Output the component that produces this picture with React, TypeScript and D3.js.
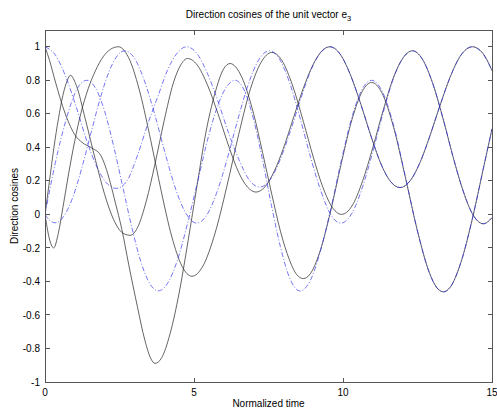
import React from "react";
import * as d3 from "d3";

type P = [number, number];

const xTicks = [0, 5, 10, 15];
const xTickLabels = ["0", "5", "10", "15"];
const yTicks = [-1, -0.8, -0.6, -0.4, -0.2, 0, 0.2, 0.4, 0.6, 0.8, 1];
const yTickLabels = ["-1", "-0.8", "-0.6", "-0.4", "-0.2", "0", "0.2", "0.4", "0.6", "0.8", "1"];

// solid (black) direction cosines
const solidA: P[] = [[0,1],[0.15,0.92],[0.35,0.79],[0.68,0.6],[1.02,0.47],[1.24,0.43],[1.58,0.395],[1.86,0.355],[2.02,0.29],[2.19,0.19],[2.36,0.07],[2.58,-0.09],[2.81,-0.3],[3.1,-0.55],[3.35,-0.75],[3.55,-0.86],[3.69,-0.889],[3.9,-0.86],[4.2,-0.71],[4.5,-0.47],[4.8,-0.16],[5.1,0.17],[5.4,0.49],[5.7,0.72],[6.0,0.87],[6.21,0.9],[6.6,0.82],[7.0,0.6],[7.3,0.37],[7.61,0.12],[7.9,-0.1],[8.2,-0.27],[8.45,-0.36],[8.67,-0.383],[8.9,-0.355],[9.2,-0.236],[9.56,0.0],[9.95,0.31],[10.3,0.565],[10.65,0.735],[10.96,0.787],[11.3,0.727],[11.7,0.518],[12.1,0.215],[12.5,-0.1],[12.9,-0.348],[13.15,-0.437],[13.37,-0.462],[13.6,-0.434],[13.95,-0.29],[14.34,-0.027],[14.7,0.266],[15,0.51]];
const solidB: P[] = [[0,0],[0.14,-0.14],[0.29,-0.2],[0.45,-0.11],[0.6,0.04],[0.8,0.25],[1.0,0.44],[1.2,0.6],[1.45,0.75],[1.7,0.86],[1.95,0.94],[2.2,0.985],[2.46,1.0],[2.85,0.918],[3.2,0.718],[3.55,0.44],[3.9,0.139],[4.25,-0.13],[4.6,-0.31],[4.93,-0.369],[5.3,-0.308],[5.7,-0.116],[6.1,0.165],[6.5,0.477],[6.9,0.752],[7.25,0.907],[7.61,0.966],[7.95,0.918],[8.3,0.773],[8.67,0.554],[9.0,0.343],[9.3,0.174],[9.6,0.053],[9.95,0.0],[10.3,0.05],[10.65,0.195],[11.0,0.398],[11.35,0.622],[11.7,0.82],[12.0,0.93],[12.33,0.976],[12.65,0.93],[13.0,0.787],[13.37,0.563],[13.7,0.339],[14.0,0.157],[14.34,0.004],[14.71,-0.056],[15,-0.02]];
const solidC: P[] = [[0,0],[0.15,0.2],[0.3,0.4],[0.45,0.57],[0.6,0.71],[0.75,0.8],[0.85,0.83],[1.05,0.77],[1.35,0.57],[1.7,0.32],[2.0,0.12],[2.3,-0.03],[2.6,-0.11],[2.86,-0.125],[3.1,-0.08],[3.4,0.08],[3.69,0.3],[4.0,0.56],[4.3,0.78],[4.55,0.89],[4.78,0.93],[5.1,0.893],[5.45,0.773],[5.8,0.603],[6.21,0.384],[6.5,0.25],[6.8,0.162],[7.08,0.133],[7.38,0.164],[7.7,0.26],[8.0,0.394],[8.35,0.583],[8.67,0.753],[9.0,0.895],[9.3,0.977],[9.56,1.0],[9.9,0.957],[10.25,0.832],[10.6,0.656],[10.96,0.456],[11.3,0.29],[11.6,0.195],[11.91,0.16],[12.25,0.2],[12.6,0.316],[12.9,0.46],[13.25,0.647],[13.6,0.821],[13.95,0.948],[14.34,1.0],[14.7,0.96],[15,0.857]];

// dash-dot (blue) direction cosines
const dashA: P[] = [[0,1],[0.35,0.95],[0.7,0.82],[1.05,0.64],[1.4,0.44],[1.75,0.28],[2.05,0.19],[2.4,0.155],[2.75,0.2],[3.1,0.35],[3.45,0.54],[3.8,0.71],[4.1,0.856],[4.4,0.954],[4.75,1.0],[5.1,0.959],[5.45,0.841],[5.8,0.677],[6.15,0.491],[6.5,0.33],[6.85,0.206],[7.21,0.163],[7.55,0.206],[7.9,0.33],[8.25,0.506],[8.6,0.699],[8.9,0.85],[9.2,0.953],[9.56,1.0],[9.9,0.957],[10.25,0.832],[10.6,0.656],[10.96,0.456],[11.3,0.29],[11.6,0.195],[11.91,0.16],[12.25,0.2],[12.6,0.316],[12.9,0.46],[13.25,0.647],[13.6,0.821],[13.95,0.948],[14.34,1.0],[14.7,0.956],[15,0.86]];
const dashB: P[] = [[0,0],[0.15,-0.035],[0.34,-0.05],[0.65,-0.006],[0.95,0.11],[1.25,0.287],[1.55,0.49],[1.85,0.69],[2.15,0.852],[2.4,0.94],[2.68,0.976],[3.0,0.932],[3.35,0.79],[3.7,0.585],[4.05,0.353],[4.4,0.143],[4.75,0.0],[5.09,-0.052],[5.4,-0.012],[5.75,0.123],[6.1,0.322],[6.45,0.553],[6.8,0.764],[7.15,0.915],[7.53,0.976],[7.85,0.932],[8.2,0.79],[8.56,0.575],[8.9,0.348],[9.25,0.143],[9.6,-0.005],[9.93,-0.052],[10.3,0.007],[10.65,0.16],[11.0,0.374],[11.35,0.608],[11.7,0.815],[12.0,0.929],[12.33,0.976],[12.65,0.93],[13.0,0.787],[13.37,0.563],[13.7,0.339],[14.0,0.157],[14.34,0.004],[14.71,-0.056],[15,-0.02]];
const dashC: P[] = [[0,0],[0.35,0.31],[0.7,0.56],[1.05,0.74],[1.4,0.8],[1.7,0.752],[2.0,0.616],[2.3,0.41],[2.6,0.172],[2.9,-0.067],[3.2,-0.273],[3.5,-0.408],[3.8,-0.456],[4.1,-0.415],[4.45,-0.27],[4.8,-0.042],[5.15,0.217],[5.5,0.475],[5.85,0.674],[6.1,0.763],[6.38,0.8],[6.7,0.735],[7.0,0.566],[7.3,0.325],[7.6,0.053],[7.9,-0.193],[8.2,-0.375],[8.56,-0.457],[8.9,-0.395],[9.25,-0.214],[9.6,0.04],[9.95,0.326],[10.3,0.58],[10.65,0.749],[10.96,0.8],[11.3,0.74],[11.7,0.53],[12.1,0.22],[12.5,-0.1],[12.9,-0.35],[13.15,-0.44],[13.37,-0.462],[13.6,-0.434],[13.95,-0.29],[14.34,-0.027],[14.7,0.266],[15,0.51]];

const solidSeries = [solidA, solidB, solidC];
const dashSeries = [dashA, dashB, dashC];

const W = 497;
const H = 414;
const L = 45, R = 492, T = 30, B = 382;
const FONT = "'Liberation Sans', Arial, Helvetica, sans-serif";

export default function App() {
  const x = d3.scaleLinear().domain([0, 15]).range([L, R]);
  const y = d3.scaleLinear().domain([-1, 1.1]).range([B, T]);
  const line = d3
    .line<P>()
    .x((d) => x(d[0]))
    .y((d) => y(d[1]))
    .curve(d3.curveMonotoneX);
  const tk = 4.5;

  return (
    <svg
      width={W}
      height={H}
      style={{ position: "absolute", left: 0, top: 0, background: "#fff" }}
      fontFamily={FONT}
    >
      <rect x={0} y={0} width={W} height={H} fill="#fff" />
      <clipPath id="plotclip">
        <rect x={L} y={T} width={R - L} height={B - T} />
      </clipPath>
      <g clipPath="url(#plotclip)" fill="none">
        {solidSeries.map((s, i) => (
          <path key={"s" + i} d={line(s) || ""} stroke="#222" strokeWidth={0.7} />
        ))}
        {dashSeries.map((s, i) => (
          <path
            key={"d" + i}
            d={line(s) || ""}
            stroke="#2a2aee"
            strokeWidth={0.65}
            strokeDasharray="5,2,1,2"
          />
        ))}
      </g>
      <g stroke="#555" strokeWidth={1} shapeRendering="crispEdges" fill="none">
        <rect x={L} y={T} width={R - L} height={B - T} />
        {xTicks.map((t) => (
          <g key={"xt" + t}>
            <line x1={x(t)} x2={x(t)} y1={B} y2={B - tk} />
            <line x1={x(t)} x2={x(t)} y1={T} y2={T + tk} />
          </g>
        ))}
        {yTicks.map((t) => (
          <g key={"yt" + t}>
            <line x1={L} x2={L + tk} y1={y(t)} y2={y(t)} />
            <line x1={R} x2={R - tk} y1={y(t)} y2={y(t)} />
          </g>
        ))}
      </g>
      <g fontSize={10} fill="#000">
        {xTicks.map((t, i) => (
          <text key={"xl" + t} x={x(t)} y={B + 13.5} textAnchor="middle">
            {xTickLabels[i]}
          </text>
        ))}
        {yTicks.map((t, i) => (
          <text key={"yl" + t} x={L - 5} y={y(t) + 3.6} textAnchor="end">
            {yTickLabels[i]}
          </text>
        ))}
        <text x={(L + R) / 2} y={406.5} textAnchor="middle">
          Normalized time
        </text>
        <text transform={`translate(18,${(T + B) / 2}) rotate(-90)`} textAnchor="middle">
          Direction cosines
        </text>
        <text x={(L + R) / 2} y={18} textAnchor="middle">
          Direction cosines of the unit vector e
          <tspan fontSize={7.5} dy={3}>3</tspan>
        </text>
      </g>
    </svg>
  );
}
